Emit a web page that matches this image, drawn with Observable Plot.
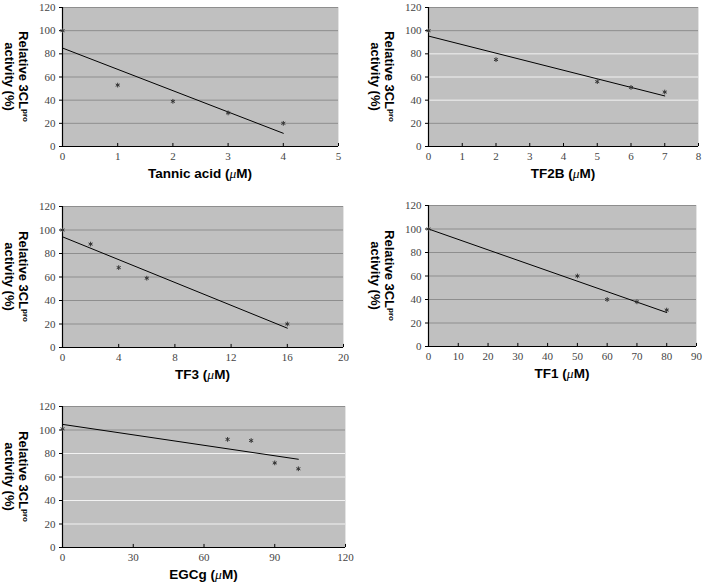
<!DOCTYPE html>
<html><head><meta charset="utf-8">
<script src="https://cdn.jsdelivr.net/npm/d3@7"></script>
<script src="https://cdn.jsdelivr.net/npm/@observablehq/plot@0.6"></script>
<style>
body{margin:0;background:#fff}
#c{position:relative;width:703px;height:585px;overflow:hidden;background:#fff}
.p{position:absolute}
svg text{font-family:"Liberation Serif","Times New Roman",serif}
</style></head><body><div id="c"></div>
<script>
// ---- data ----
const yTicks = [0, 20, 40, 60, 80, 100, 120];

const tannicX = [0, 1, 2, 3, 4];
const tannicY = [100, 53, 39, 29, 20];
const tannicTicks = [0, 1, 2, 3, 4, 5];

const tf2bX = [0, 2, 5, 6, 7];
const tf2bY = [100, 75, 56, 51, 47];
const tf2bTicks = [0, 1, 2, 3, 4, 5, 6, 7, 8];

const tf3X = [0, 2, 4, 6, 16];
const tf3Y = [100, 88, 68, 59, 20];
const tf3Ticks = [0, 4, 8, 12, 16, 20];

const tf1X = [0, 50, 60, 70, 80];
const tf1Y = [100, 60, 40, 38, 31];
const tf1Ticks = [0, 10, 20, 30, 40, 50, 60, 70, 80, 90];

const egcgX = [0, 70, 80, 90, 100];
const egcgY = [101, 92, 91, 72, 67];
const egcgTicks = [0, 30, 60, 90, 120];

const names = ["Tannic acid", "TF2B", "TF3", "TF1", "EGCg"];

// ---- layout / style ----
const panels = [
  {name: names[0], x: tannicX, y: tannicY, ticks: tannicTicks, left: 0,   top: 0,   w: 350, h: 190, m: [7, 12, 44, 62],  white: []},
  {name: names[1], x: tf2bX,   y: tf2bY,   ticks: tf2bTicks,   left: 350, top: 0,   w: 353, h: 190, m: [7, 5, 44, 78],   white: [40, 60, 80]},
  {name: names[2], x: tf3X,    y: tf3Y,    ticks: tf3Ticks,    left: 0,   top: 190, w: 350, h: 200, m: [16, 7, 43, 62],  white: []},
  {name: names[3], x: tf1X,    y: tf1Y,    ticks: tf1Ticks,    left: 350, top: 190, w: 353, h: 200, m: [15, 7, 44, 78],  white: []},
  {name: names[4], x: egcgX,   y: egcgY,   ticks: egcgTicks,   left: 0,   top: 390, w: 360, h: 195, m: [16, 15, 38, 62], white: [20, 40, 60, 80]}
];

const serif = "Liberation Serif";
const sans = "'Liberation Sans', Arial, sans-serif";
const container = document.getElementById("c");

for (const cfg of panels) {
  const data = cfg.x.map((x, i) => ({x, y: cfg.y[i]}));
  const [mt, mr, mb, ml] = cfg.m;
  const xmax = cfg.ticks[cfg.ticks.length - 1];
  const greyLines = yTicks.filter(t => t > 0 && !cfg.white.includes(t));
  const whiteLines = yTicks.filter(t => cfg.white.includes(t));
  const chart = Plot.plot({
    width: cfg.w, height: cfg.h,
    marginTop: mt, marginRight: mr, marginBottom: mb, marginLeft: ml,
    style: {fontFamily: serif, fontSize: "11px", background: "transparent"},
    x: {domain: [0, xmax], label: null},
    y: {domain: [0, 120], label: null},
    marks: [
      Plot.frame({fill: "#c0c0c0", stroke: null}),
      Plot.ruleY(greyLines, {y: d => d, stroke: "#8e8e8e", strokeWidth: 1}),
      Plot.ruleY(whiteLines, {y: d => d, stroke: "#f2f2f2", strokeWidth: 1}),
      Plot.ruleX([xmax], {x: d => d, stroke: "#e4e4e4", strokeWidth: 1}),
      Plot.ruleX([0], {x: d => d, stroke: "#000", strokeWidth: 1.2}),
      Plot.ruleY([0], {y: d => d, stroke: "#000", strokeWidth: 1.2}),
      Plot.ruleX(cfg.ticks, {x: d => d, y1: 0, y2: 2.6, stroke: "#000", strokeWidth: 1}),
      Plot.axisY({ticks: yTicks, tickSize: 3, tickPadding: 4, stroke: "#000", fill: "#444", fontFamily: serif, fontSize: 11, tickFormat: d => String(d)}),
      Plot.axisX({ticks: cfg.ticks, tickSize: 0, tickPadding: 6, fill: "#444", fontFamily: serif, fontSize: 11, tickFormat: d => String(d)}),
      Plot.linearRegressionY(data, {x: "x", y: "y", ci: 0, stroke: "#000", strokeWidth: 1}),
      Plot.dot(data, {x: "x", y: "y", symbol: "asterisk", r: 2.2, stroke: "#333", strokeWidth: 1})
    ]
  });
  const wrap = document.createElement("div");
  wrap.className = "p";
  wrap.style.left = cfg.left + "px";
  wrap.style.top = cfg.top + "px";
  wrap.appendChild(chart);
  container.appendChild(wrap);

  const svg = d3.select(chart);
  const cx = ml + (cfg.w - ml - mr) / 2;
  const cy = mt + (cfg.h - mt - mb) / 2;
  // x label
  const xl = svg.append("text")
    .attr("x", cx).attr("y", cfg.h - mb + 32)
    .attr("text-anchor", "middle")
    .style("font-family", sans)
    .style("font-weight", "bold").style("font-size", "13.5px").style("fill", "#000");
  xl.append("tspan").text(cfg.name + " (");
  xl.append("tspan").text("μ").style("font-family", "'Liberation Serif', serif").style("font-weight", "normal").style("font-style", "italic");
  xl.append("tspan").text("M)");
  // y label
  const g = svg.append("g").attr("transform", `translate(${ml - 43},${cy}) rotate(90)`);
  const t1 = g.append("text").attr("x", 0).attr("y", 0).attr("text-anchor", "middle")
    .style("font-family", sans).style("font-weight", "bold").style("font-size", "13px").style("fill", "#000");
  t1.append("tspan").text("Relative 3CL");
  t1.append("tspan").text("pro").attr("dy", -4).style("font-size", "8px");
  g.append("text").attr("x", 0).attr("y", 14).attr("text-anchor", "middle")
    .style("font-family", sans).style("font-weight", "bold").style("font-size", "13px").style("fill", "#000")
    .text("activity (%)");
}
</script>
</body></html>
